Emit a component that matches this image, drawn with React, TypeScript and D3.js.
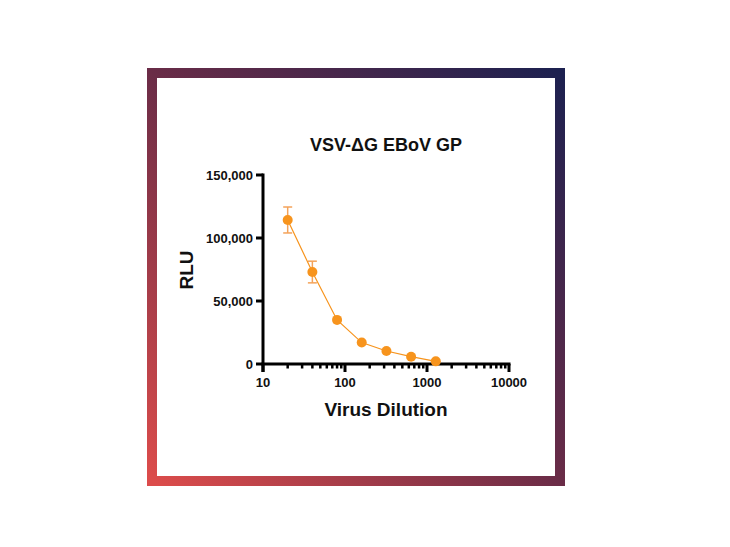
import React from "react";
import * as d3 from "d3";

const dilutions = [20, 40, 80, 160, 320, 640, 1280];
const rluMean = [114300, 73000, 35000, 17000, 10300, 5800, 2100];
const rluErr = [10300, 8600, 0, 0, 0, 0, 0];
const yTicks = [0, 50000, 100000, 150000];
const xTicks = [10, 100, 1000, 10000];
const title = "VSV-\u0394G EBoV GP";
const xLabel = "Virus Dilution";
const yLabel = "RLU";

const W = 730;
const H = 547;
const FONT = "'Liberation Sans', Arial, Helvetica, sans-serif";
const ORANGE = "#f7941d";

export default function App() {
  const x = d3.scaleLog().domain([10, 10000]).range([263, 509]);
  const y = d3.scaleLinear().domain([0, 150000]).range([364, 175]);
  const fmt = d3.format(",");
  const minor: number[] = [];
  for (let d = 10; d < 10000; d *= 10) {
    for (let k = 2; k <= 9; k++) minor.push(d * k);
  }
  const line = d3
    .line<number>()
    .x((_, i) => x(dilutions[i]))
    .y((v) => y(v));

  return (
    <svg
      width={W}
      height={H}
      style={{ position: "absolute", left: 0, top: 0, background: "#fff" }}
    >
      <defs>
        <linearGradient id="frameGrad" x1="0" y1="1" x2="1" y2="0">
          <stop offset="0%" stopColor="#dc4c4b" />
          <stop offset="50%" stopColor="#6a2c47" />
          <stop offset="100%" stopColor="#1d2150" />
        </linearGradient>
      </defs>
      <rect x={0} y={0} width={W} height={H} fill="#fff" />
      <rect
        x={152}
        y={73}
        width={408}
        height={408}
        fill="none"
        stroke="url(#frameGrad)"
        strokeWidth={10}
      />
      {/* title */}
      <text
        x={386}
        y={151}
        textAnchor="middle"
        fontFamily={FONT}
        fontWeight="bold"
        fontSize={18}
        fill="#111"
      >
        {title}
      </text>
      {/* y axis */}
      <line x1={263} x2={263} y1={y(150000) - 1.5} y2={y(0) + 8} stroke="#000" strokeWidth={3} />
      {yTicks.map((t) => (
        <g key={t}>
          <line x1={256} x2={263} y1={y(t)} y2={y(t)} stroke="#000" strokeWidth={3} />
          <text
            x={253}
            y={y(t)}
            dy="0.35em"
            textAnchor="end"
            fontFamily={FONT}
            fontWeight="bold"
            fontSize={13}
            fill="#111"
          >
            {fmt(t)}
          </text>
        </g>
      ))}
      {/* x axis */}
      <line x1={261.5} x2={x(10000) + 1.5} y1={y(0)} y2={y(0)} stroke="#000" strokeWidth={3} />
      {minor.map((t) => (
        <line key={t} x1={x(t)} x2={x(t)} y1={y(0)} y2={y(0) + 4.5} stroke="#000" strokeWidth={2.5} />
      ))}
      {xTicks.map((t) => (
        <g key={t}>
          <line x1={x(t)} x2={x(t)} y1={y(0)} y2={y(0) + 8} stroke="#000" strokeWidth={3} />
          <text
            x={x(t)}
            y={387}
            textAnchor="middle"
            fontFamily={FONT}
            fontWeight="bold"
            fontSize={13}
            fill="#111"
          >
            {t}
          </text>
        </g>
      ))}
      {/* axis labels */}
      <text
        x={386}
        y={416}
        textAnchor="middle"
        fontFamily={FONT}
        fontWeight="bold"
        fontSize={19}
        fill="#111"
      >
        {xLabel}
      </text>
      <text
        transform={`translate(193,270) rotate(-90)`}
        textAnchor="middle"
        fontFamily={FONT}
        fontWeight="bold"
        fontSize={19}
        fill="#111"
      >
        {yLabel}
      </text>
      {/* error bars */}
      {dilutions.map((d, i) =>
        rluErr[i] > 0 ? (
          <g key={d} stroke="#f4a35a" strokeWidth={1.5} fill="none">
            <line x1={x(d)} x2={x(d)} y1={y(rluMean[i] + rluErr[i])} y2={y(rluMean[i] - rluErr[i])} />
            <line x1={x(d) - 4.5} x2={x(d) + 4.5} y1={y(rluMean[i] + rluErr[i])} y2={y(rluMean[i] + rluErr[i])} />
            <line x1={x(d) - 4.5} x2={x(d) + 4.5} y1={y(rluMean[i] - rluErr[i])} y2={y(rluMean[i] - rluErr[i])} />
          </g>
        ) : null
      )}
      <path d={line(rluMean) || ""} fill="none" stroke={ORANGE} strokeWidth={1.2} />
      {dilutions.map((d, i) => (
        <circle key={d} cx={x(d)} cy={y(rluMean[i])} r={5} fill={ORANGE} />
      ))}
    </svg>
  );
}
